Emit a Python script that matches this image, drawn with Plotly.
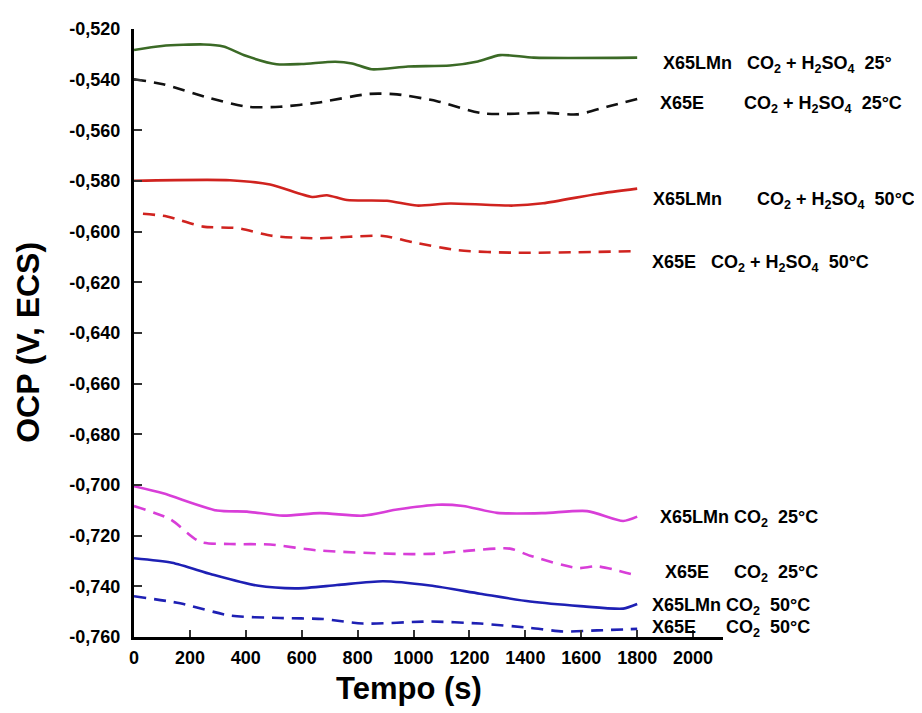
import plotly.graph_objects as go

# ---- data ----
t_lmn_h2so4_25 = [0, 100, 250, 320, 400, 510, 600, 720, 780, 850, 980, 1130, 1230, 1310, 1430, 1800]
v_lmn_h2so4_25 = [-0.5283, -0.5267, -0.5261, -0.5269, -0.5306, -0.5339, -0.5338, -0.5329, -0.5336,
                  -0.5359, -0.5348, -0.5344, -0.5328, -0.5303, -0.5313, -0.5313]

t_e_h2so4_25 = [0, 104, 272, 404, 522, 655, 844, 941, 1084, 1249, 1478, 1585, 1692, 1800]
v_e_h2so4_25 = [-0.5398, -0.5418, -0.5473, -0.5507, -0.5507, -0.5491, -0.5456, -0.5458, -0.5485,
                -0.5533, -0.5531, -0.5537, -0.5507, -0.5476]

t_lmn_h2so4_50 = [0, 343, 487, 637, 690, 762, 905, 1012, 1131, 1356, 1463, 1657, 1800]
v_lmn_h2so4_50 = [-0.5799, -0.5797, -0.5814, -0.5863, -0.5856, -0.5875, -0.5878, -0.5897, -0.5889,
                  -0.5897, -0.5888, -0.5851, -0.5830]

t_e_h2so4_50 = [32, 118, 247, 369, 497, 655, 891, 998, 1156, 1356, 1800]
v_e_h2so4_50 = [-0.5929, -0.5940, -0.5980, -0.5986, -0.6017, -0.6026, -0.6017, -0.6042, -0.6073,
                -0.6083, -0.6077]

t_lmn_co2_25 = [0, 104, 297, 404, 533, 665, 819, 941, 1084, 1177, 1299, 1463, 1621, 1750, 1800]
v_lmn_co2_25 = [-0.7005, -0.7033, -0.7101, -0.7105, -0.7121, -0.7111, -0.7121, -0.7097, -0.7078,
                -0.7083, -0.7110, -0.7111, -0.7103, -0.7142, -0.7125]

t_e_co2_25 = [0, 129, 236, 343, 487, 655, 941, 1059, 1177, 1345, 1417, 1585, 1657, 1800]
v_e_co2_25 = [-0.7083, -0.7135, -0.7224, -0.7233, -0.7235, -0.7258, -0.7272, -0.7272, -0.7261,
              -0.7251, -0.7279, -0.7328, -0.7321, -0.7358]

t_lmn_co2_50 = [0, 136, 279, 440, 583, 726, 891, 1059, 1238, 1417, 1596, 1750, 1800]
v_lmn_co2_50 = [-0.7289, -0.7307, -0.7353, -0.7397, -0.7408, -0.7395, -0.7380, -0.7397, -0.7429,
                -0.7460, -0.7478, -0.7488, -0.7470]

t_e_co2_50 = [0, 165, 343, 522, 676, 819, 1059, 1238, 1417, 1535, 1657, 1800]
v_e_co2_50 = [-0.7439, -0.7467, -0.7515, -0.7525, -0.7529, -0.7547, -0.7539, -0.7547, -0.7564,
              -0.7578, -0.7574, -0.7568]

x_ticks = [0, 200, 400, 600, 800, 1000, 1200, 1400, 1600, 1800, 2000]
y_ticks = [-0.760, -0.740, -0.720, -0.700, -0.680, -0.660, -0.640, -0.620, -0.600,
           -0.580, -0.560, -0.540, -0.520]
y_tick_text = ["-0,760", "-0,740", "-0,720", "-0,700", "-0,680", "-0,660", "-0,640", "-0,620",
               "-0,600", "-0,580", "-0,560", "-0,540", "-0,520"]

NB = "\u00a0"
labels = [
    "X65LMn" + NB * 3 + "CO<sub>2</sub> + H<sub>2</sub>SO<sub>4</sub>" + NB * 2 + "25°",
    "X65E" + NB * 8 + "CO<sub>2</sub> + H<sub>2</sub>SO<sub>4</sub>" + NB * 2 + "25°C",
    "X65LMn" + NB * 7 + "CO<sub>2</sub> + H<sub>2</sub>SO<sub>4</sub>" + NB * 2 + "50°C",
    "X65E" + NB * 3 + "CO<sub>2</sub> + H<sub>2</sub>SO<sub>4</sub>" + NB * 2 + "50°C",
    "X65LMn CO<sub>2</sub>" + NB * 2 + "25°C",
    "X65E" + NB * 5 + "CO<sub>2</sub>" + NB * 2 + "25°C",
    "X65LMn CO<sub>2</sub>" + NB * 2 + "50°C",
    "X65E" + NB * 6 + "CO<sub>2</sub>" + NB * 2 + "50°C",
]
# screen positions (left edge, vertical centre) of each label
label_px = [(661, 55), (658, 96), (651, 193), (650, 257), (658, 517), (663, 572), (650, 606), (650, 628)]

GREEN = "#3b6a26"
BLACK = "#111111"
RED = "#d0231f"
MAGENTA = "#d83ed8"
BLUE = "#1e20b4"
DASH = "12px,8px"

series = [
    (t_lmn_h2so4_25, v_lmn_h2so4_25, GREEN, "solid"),
    (t_e_h2so4_25, v_e_h2so4_25, BLACK, DASH),
    (t_lmn_h2so4_50, v_lmn_h2so4_50, RED, "solid"),
    (t_e_h2so4_50, v_e_h2so4_50, RED, DASH),
    (t_lmn_co2_25, v_lmn_co2_25, MAGENTA, "solid"),
    (t_e_co2_25, v_e_co2_25, MAGENTA, DASH),
    (t_lmn_co2_50, v_lmn_co2_50, BLUE, "solid"),
    (t_e_co2_50, v_e_co2_50, BLUE, DASH),
]

fig = go.Figure()
for (t, v, c, d), name in zip(series, labels):
    fig.add_trace(go.Scatter(x=t, y=v, mode="lines", name=name,
                             line=dict(color=c, width=2.6, dash=d, shape="spline", smoothing=0.7),
                             showlegend=False, cliponaxis=False))

# page body has an 8px margin: compensate so the screen layout matches
OFF = 8
W, H = 922 - OFF, 713 - OFF
L, R, T, B = 134 - OFF, 199, 19 - OFF, 76
pw, ph = W - L - R, H - T - B


def px2paper(sx, sy):
    fx, fy = sx - OFF, sy - OFF
    return (fx - L) / pw, 1 - (fy - T) / ph


FONT = "Arial, Liberation Sans, sans-serif"
ann = []
for txt, (sx, sy) in zip(labels, label_px):
    ax, ay = px2paper(sx, sy)
    ann.append(dict(x=ax, y=ay, xref="paper", yref="paper",
                    text=txt, showarrow=False, xanchor="left", yanchor="middle",
                    font=dict(family=FONT, size=18, color="black", weight="bold")))
ax, ay = px2paper(409, 689)
ann.append(dict(x=ax, y=ay, xref="paper", yref="paper",
                text="Tempo (s)", showarrow=False, xanchor="center", yanchor="middle",
                font=dict(family=FONT, size=31, color="black", weight="bold")))
ax, ay = px2paper(28, 338)
ann.append(dict(x=ax, y=ay, xref="paper", yref="paper",
                text="OCP (V, ECS)", showarrow=False, xanchor="center", yanchor="middle",
                textangle=-90,
                font=dict(family=FONT, size=32, color="black", weight="bold")))

fig.update_layout(
    width=W, height=H,
    margin=dict(l=L, r=R, t=T, b=B),
    paper_bgcolor="white", plot_bgcolor="white",
    annotations=ann,
    font=dict(family=FONT, color="black"),
)
fig.update_xaxes(range=[0, 2107], tickvals=x_ticks, showgrid=False, zeroline=False,
                 showline=True, linecolor="black", linewidth=3,
                 ticks="inside", ticklen=7, tickwidth=2, tickcolor="#333",
                 ticklabelstandoff=2,
                 tickfont=dict(family=FONT, size=18, color="black", weight="bold"))
fig.update_yaxes(range=[-0.760, -0.520], tickvals=y_ticks, ticktext=y_tick_text,
                 showgrid=False, zeroline=False,
                 showline=True, linecolor="black", linewidth=3,
                 ticks="inside", ticklen=8, tickwidth=2, tickcolor="#333",
                 ticklabelstandoff=7,
                 tickfont=dict(family=FONT, size=18, color="black", weight="bold"))

fig.write_html("out.html")
